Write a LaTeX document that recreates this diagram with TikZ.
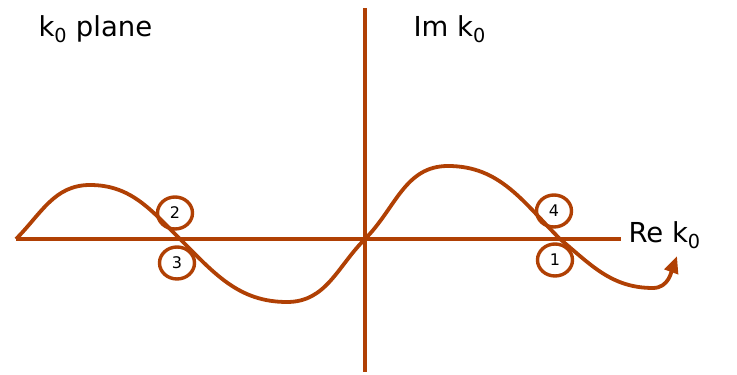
\documentclass[tikz,border=0pt]{standalone}
\usepackage{fontspec}
\setmainfont{DejaVu Sans}
\usepackage{tikz}
\usetikzlibrary{arrows.meta,shapes.geometric}
\definecolor{rust}{RGB}{176,64,4}

\begin{document}
\begin{tikzpicture}[x=1pt, y=1pt,
		axisline/.style={rust, line width=3.8pt},
		pathline/.style={rust, line width=3.8pt},
		tag/.style={ellipse, draw=rust, line width=3.4pt, minimum width=35pt, minimum height=32pt, inner sep=0pt, font=\fontsize{16}{18}\selectfont},
		label/.style={anchor=base west, font=\fontsize{27.5}{30}\selectfont}]
				\useasboundingbox (0,0) rectangle (737,375);
				
				% Axes
				\coordinate (west) at (16,136);
				\coordinate (east) at (621,136);
				\coordinate (south) at (365,3);
				\coordinate (north) at (365,367);
				\draw[axisline] (west) -- (east);
				\draw[axisline] (south) -- (north);
				
				% Labels
				\node[label] (plane) at (35,338) {k\textsubscript{0} plane};
				\node[label] (imk) at (410,338) {Im k\textsubscript{0}};
				\node[label] (rek) at (625,132) {Re k\textsubscript{0}};
				
				% Contour
				\draw[pathline, -{Triangle[length=17pt, width=14pt]}] (west)
					to[out=45, in=180] (90,190)
					to[out=0, in=135] (180,136)
					to[out=-45, in=180] (287,73)
					to[out=0, in=225] (365,136)
					to[out=45, in=180] (448,209)
					to[out=0, in=135] (560,136)
					to[out=-40, in=180] (653,87)
					to[out=0, in=250] (677,119);
				
				% Crossing tags
				\node[tag] (two) at (175,162) {2};
				\node[tag] (three) at (177,112) {3};
				\node[tag] (four) at (554,164) {4};
				\node[tag] (one) at (555,115) {1};
			\end{tikzpicture}
\end{document}
